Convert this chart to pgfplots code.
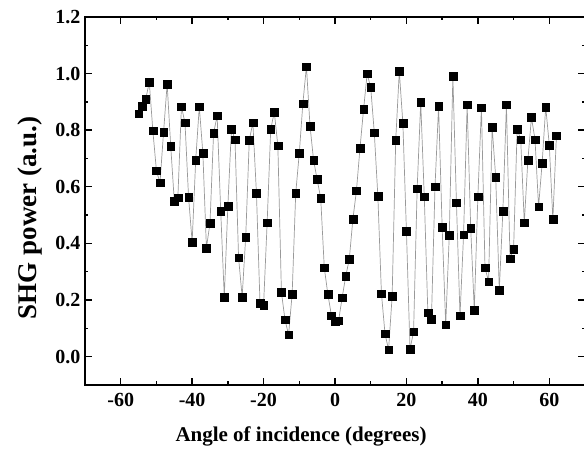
\documentclass[border=0pt]{standalone}
\usepackage{fontspec}
\setmainfont{Liberation Serif}
\usepackage{pgfplots}
\pgfplotsset{compat=1.18}

\pgfplotstableread{
x y
-55 0.859
-54 0.885
-53 0.910
-52 0.969
-51 0.798
-50 0.657
-49 0.614
-48 0.794
-47 0.963
-46 0.744
-45 0.550
-44 0.561
-43 0.883
-42 0.826
-41 0.563
-40 0.405
-39 0.695
-38 0.883
-37 0.719
-36 0.384
-35 0.472
-34 0.789
-33 0.851
-32 0.514
-31 0.211
-30 0.532
-29 0.804
-28 0.767
-27 0.350
-26 0.211
-25 0.423
-24 0.765
-23 0.826
-22 0.578
-21 0.188
-20 0.182
-19 0.473
-18 0.803
-17 0.864
-16 0.745
-15 0.227
-14 0.130
-13 0.077
-12 0.221
-11 0.577
-10 0.719
-9 0.894
-8 1.025
-7 0.815
-6 0.694
-5 0.626
-4 0.559
-3 0.314
-2 0.220
-1 0.145
0 0.124
1 0.127
2 0.208
3 0.284
4 0.344
5 0.485
6 0.586
7 0.737
8 0.874
9 0.999
10 0.951
11 0.791
12 0.567
13 0.223
14 0.081
15 0.024
16 0.214
17 0.764
18 1.008
19 0.825
20 0.443
21 0.026
22 0.088
23 0.593
24 0.898
25 0.565
26 0.155
27 0.132
28 0.600
29 0.884
30 0.457
31 0.113
32 0.430
33 0.990
34 0.544
35 0.145
36 0.431
37 0.890
38 0.453
39 0.165
40 0.565
41 0.880
42 0.314
43 0.265
44 0.810
45 0.633
46 0.235
47 0.514
48 0.890
49 0.346
50 0.379
51 0.804
52 0.766
53 0.473
54 0.693
55 0.845
56 0.767
57 0.530
58 0.684
59 0.882
60 0.748
61 0.485
62 0.781
}\shgdata

\begin{document}
\begin{tikzpicture}
  \begin{axis}[
      scale only axis,
      width=500pt, height=368pt,
      xmin=-70, xmax=70,
      ymin=-0.1, ymax=1.2,
      xtick={-60,-40,...,60},
      minor xtick={-50,-30,...,50},
      ytick={0,0.2,...,1.2},
      minor ytick={-0.1,0.1,0.3,...,1.1},
      tick align=inside,
      major tick length=7pt,
      minor tick length=3.5pt,
      every tick/.style={black, line width=1.4pt},
      axis line style={line width=1.6pt},
      font=\fontsize{20}{24}\selectfont\bfseries,
      /pgf/number format/assume math mode=true,
      yticklabel style={/pgf/number format/fixed, /pgf/number format/fixed zerofill, /pgf/number format/precision=1, xshift=-1pt},
      xticklabel style={yshift=-5pt},
      xlabel={Angle of incidence (degrees)},
      ylabel={SHG power (a.u.)},
      xlabel style={font=\fontsize{21}{25}\selectfont\bfseries, at={(axis description cs:0.432,-0.141)}, anchor=center},
      ylabel style={font=\fontsize{27}{30}\selectfont\bfseries, at={(axis description cs:-0.11,0.454)}, anchor=center, rotate=0},
      clip=false,
    ]
    \addplot[color=gray!80, line width=0.7pt, mark=square*, mark size=3.8pt,
             mark options={fill=black, draw=black, line width=0.3pt}]
      table[x=x, y=y] {\shgdata};
    \coordinate (sw) at (axis description cs:-0.17,-0.1875);
    \coordinate (ne) at (axis description cs:0.998,1.046);
  \end{axis}
  \pgfresetboundingbox
  \path[use as bounding box] (sw) rectangle (ne);
\end{tikzpicture}
\end{document}
